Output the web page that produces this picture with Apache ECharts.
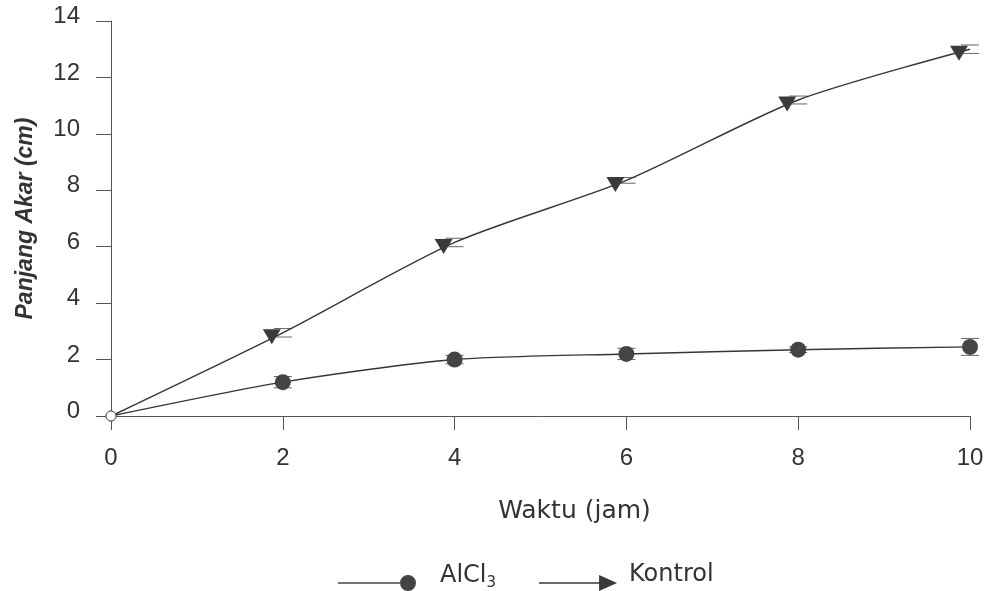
<!DOCTYPE html>
<html>
<head>
<meta charset="utf-8">
<script src="https://cdn.jsdelivr.net/npm/echarts@6/dist/echarts.min.js"></script>
<style>
html,body{margin:0;padding:0;background:#fff;}
#chart{width:987px;height:591px;}
</style>
</head>
<body>
<div id="chart"></div>
<script>
// ---- data ----
var hours = [0, 2, 4, 6, 8, 10];
var alcl3 = [0, 1.2, 2.0, 2.2, 2.35, 2.45];
var alcl3Err = [0, 0.2, 0.15, 0.2, 0.1, 0.3];
var kontrol = [0, 2.95, 6.15, 8.35, 11.2, 13.0];
var kontrolErr = [0, 0.15, 0.15, 0.1, 0.14, 0.15];
var yTicks = [0, 2, 4, 6, 8, 10, 12, 14];
var xTicks = [0, 2, 4, 6, 8, 10];

var INK = '#333';
var LINE = '#363636';

function lineData(vals) {
  return hours.map(function (h, i) {
    if (i === 0) {
      return {
        value: [h, vals[i]],
        symbol: 'circle',
        symbolSize: 10,
        symbolOffset: [0, 0],
        itemStyle: { color: '#fff', borderColor: '#555', borderWidth: 1 }
      };
    }
    return [h, vals[i]];
  });
}
function errData(vals, errs) {
  return hours.map(function (h, i) { return [h, vals[i], errs[i]]; });
}
function renderErr(params, api) {
  var x = api.value(0), y = api.value(1), e = api.value(2);
  if (!e) return null;
  var t = api.coord([x, y + e]);
  var b = api.coord([x, y - e]);
  var w = 9;
  var st = { stroke: '#666', lineWidth: 1 };
  return {
    type: 'group',
    children: [
      { type: 'line', shape: { x1: t[0] - w, y1: t[1], x2: t[0] + w, y2: t[1] }, style: st },
      { type: 'line', shape: { x1: b[0] - w, y1: b[1], x2: b[0] + w, y2: b[1] }, style: st }
    ]
  };
}

// icons: tiny invisible anchor at top so the visible part sits low in a 30px box
var circleIcon = 'path://M0,-14h0.05v0.05h-0.05z M0,7.3h62v1.4h-62z M62,8 a8,8 0 1,0 16,0 a8,8 0 1,0 -16,0 z';
var arrowIcon = 'path://M0,-14h0.05v0.05h-0.05z M0,7.3h62v1.4h-62z M60,0 L78,8 L60,16 z';
var downTri = 'path://M0,0 L20,0 L10,17 Z';

var chart = echarts.init(document.getElementById('chart'));
chart.setOption({
  backgroundColor: '#fff',
  animation: false,
  grid: { left: 111, right: 17, top: 21, bottom: 175 },
  legend: {
    left: 333,
    top: 556,
    itemGap: 43,
    itemWidth: 78,
    itemHeight: 30,
    itemStyle: { borderWidth: 0 },
    data: [
      { name: 'AlCl3', icon: circleIcon },
      { name: 'Kontrol', icon: arrowIcon }
    ],
    formatter: function (name) {
      if (name === 'AlCl3') return '{n|AlCl}{s|3}';
      return '{k|' + name + '}';
    },
    textStyle: {
      color: INK,
      fontFamily: 'DejaVu Sans',
      fontSize: 24,
      rich: {
        n: { fontFamily: 'DejaVu Sans', fontSize: 24, color: INK, lineHeight: 30, padding: [0, 0, 0, 19] },
        s: { fontFamily: 'DejaVu Sans', fontSize: 15, color: INK, lineHeight: 15, verticalAlign: 'bottom' },
        k: { fontFamily: 'DejaVu Sans', fontSize: 24, color: INK, lineHeight: 30, padding: [0, 0, 2, 7] }
      }
    }
  },
  xAxis: {
    type: 'value',
    min: 0,
    max: 10,
    interval: 2,
    name: 'Waktu (jam)',
    nameLocation: 'middle',
    nameGap: 83,
    nameTextStyle: { fontFamily: 'DejaVu Sans', fontSize: 25, color: INK, padding: [0, 0, 0, 68] },
    axisLine: { show: true, onZero: false, lineStyle: { color: '#555', width: 1 } },
    axisTick: { show: true, length: 14, lineStyle: { color: '#555' } },
    axisLabel: {
      margin: 30,
      fontFamily: 'Liberation Sans',
      fontSize: 24,
      color: INK,
      customValues: xTicks,
      formatter: function (v) { return String(v); }
    },
    splitLine: { show: false }
  },
  yAxis: {
    type: 'value',
    min: 0,
    max: 14,
    interval: 2,
    name: 'Panjang Akar (cm)',
    nameLocation: 'middle',
    nameGap: 74,
    nameTextStyle: { fontFamily: 'Liberation Sans', fontSize: 23, fontStyle: 'italic', fontWeight: 'bold', color: INK },
    axisLine: { show: true, lineStyle: { color: '#555', width: 1 } },
    axisTick: { show: true, length: 15, lineStyle: { color: '#555' } },
    axisLabel: {
      margin: 31,
      fontFamily: 'Liberation Sans',
      fontSize: 24,
      color: INK,
      verticalAlign: 'bottom',
      lineHeight: 9,
      formatter: function (v) { return yTicks.indexOf(v) >= 0 ? String(v) : ''; }
    },
    splitLine: { show: false }
  },
  series: [
    {
      name: 'AlCl3',
      type: 'line',
      smooth: 0.25,
      data: lineData(alcl3),
      symbol: 'circle',
      symbolSize: 16,
      showAllSymbol: true,
      lineStyle: { color: LINE, width: 1.4 },
      itemStyle: { color: '#444' },
      z: 3
    },
    {
      name: 'Kontrol',
      type: 'line',
      smooth: 0.25,
      data: lineData(kontrol),
      symbol: downTri,
      symbolSize: [18, 15],
      symbolOffset: [-11, 4],
      showAllSymbol: true,
      lineStyle: { color: LINE, width: 1.4 },
      itemStyle: { color: '#3a3a3a' },
      z: 3
    },
    {
      name: 'AlCl3 err',
      type: 'custom',
      renderItem: renderErr,
      data: errData(alcl3, alcl3Err),
      z: 2,
      silent: true
    },
    {
      name: 'Kontrol err',
      type: 'custom',
      renderItem: renderErr,
      data: errData(kontrol, kontrolErr),
      z: 2,
      silent: true
    }
  ]
});
</script>
</body>
</html>
